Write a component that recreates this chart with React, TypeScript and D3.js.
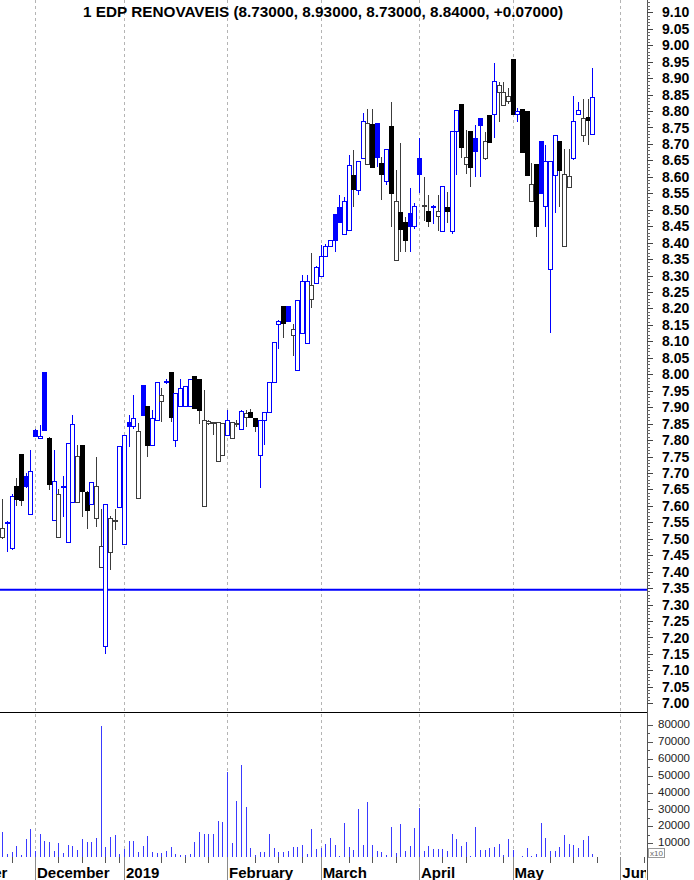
import React from "react";
import * as d3 from "d3";

const W = 694;
const H = 880;

const title = "1 EDP RENOVAVEIS (8.73000, 8.93000, 8.73000, 8.84000, +0.07000)";
const firstIndex = -7; // first visible trading day, relative to 3 Dec 2018
const priorClose = 7.56;
const supportLevel = 7.345;

const opens = [
  7.505, 7.545, 7.47, 7.66, 7.755, 7.69, 7.575,
  7.83, 7.805, 8.005, 7.805, 7.556, 7.504, 7.655, 7.49, 7.609, 7.609,
  7.784, 7.642, 7.604, 7.561, 7.414, 7.173, 7.459, 7.553, 7.595, 7.483,
  7.853, 7.842, 7.622, 7.965, 7.901, 7.784, 7.86, 7.916, 7.974, 8.004,
  7.8, 7.903, 7.903, 7.903, 7.992, 7.985, 7.597, 7.85, 7.85, 7.736,
  7.754, 7.815, 7.805, 7.848, 7.832, 7.869, 7.883, 7.865, 7.754, 7.86,
  7.884, 7.975, 8.152, 8.205, 8.205, 8.119, 8.012, 8.124, 8.092, 8.228,
  8.276, 8.296, 8.357, 8.387, 8.484, 8.506, 8.426, 8.436, 8.605, 8.557,
  8.656, 8.638, 8.76, 8.762, 8.639, 8.586, 8.753, 8.347, 8.491, 8.46,
  8.489, 8.448, 8.656, 8.51, 8.494, 8.508, 8.479, 8.433, 8.506, 8.433,
  8.737, 8.82, 8.638, 8.739, 8.717, 8.778, 8.656, 8.786, 8.788, 8.856,
  8.818, 8.83, 8.958, 8.79, 8.806, 8.798, 8.524, 8.638, 8.707, 8.509,
  8.317, 8.605, 8.707, 8.387, 8.568, 8.656, 8.788, 8.727, 8.78, 8.73,
];
const highs = [
  7.62, 7.555, 7.635, 7.685, 7.755, 7.7, 7.77,
  7.835, 7.845, 8.005, 7.81, 7.77, 7.651, 7.69, 7.79, 7.876, 7.784,
  7.784, 7.645, 7.672, 7.749, 7.592, 7.604, 7.57, 7.589, 7.78, 7.815,
  7.875, 7.936, 7.853, 7.965, 7.901, 7.891, 7.974, 7.957, 7.985, 8.004,
  7.942, 7.987, 7.964, 7.985, 7.992, 7.985, 7.952, 7.862, 7.856, 7.852,
  7.851, 7.891, 7.853, 7.86, 7.89, 7.891, 7.895, 7.865, 7.86, 7.884,
  7.975, 8.097, 8.164, 8.205, 8.205, 8.154, 8.223, 8.301, 8.301, 8.367,
  8.33, 8.392, 8.395, 8.405, 8.484, 8.545, 8.539, 8.666, 8.681, 8.646,
  8.793, 8.806, 8.806, 8.762, 8.661, 8.684, 8.828, 8.621, 8.702, 8.479,
  8.565, 8.52, 8.717, 8.598, 8.545, 8.514, 8.545, 8.57, 8.555, 8.739,
  8.803, 8.82, 8.742, 8.739, 8.757, 8.778, 8.737, 8.786, 8.945, 8.889,
  8.889, 8.87, 8.958, 8.808, 8.806, 8.798, 8.641, 8.638, 8.707, 8.697,
  8.648, 8.727, 8.707, 8.686, 8.686, 8.847, 8.828, 8.836, 8.836, 8.93,
];
const lows = [
  7.5, 7.46, 7.465, 7.6, 7.6, 7.655, 7.575,
  7.81, 7.805, 7.83, 7.648, 7.556, 7.504, 7.565, 7.49, 7.609, 7.609,
  7.566, 7.531, 7.604, 7.536, 7.414, 7.151, 7.404, 7.528, 7.595, 7.483,
  7.78, 7.835, 7.622, 7.876, 7.749, 7.784, 7.86, 7.855, 7.97, 7.855,
  7.779, 7.903, 7.903, 7.903, 7.895, 7.85, 7.597, 7.845, 7.815, 7.736,
  7.754, 7.815, 7.805, 7.84, 7.832, 7.84, 7.869, 7.825, 7.653, 7.784,
  7.884, 7.975, 8.078, 8.109, 8.161, 8.056, 8.012, 8.124, 8.092, 8.2,
  8.276, 8.296, 8.357, 8.387, 8.372, 8.461, 8.426, 8.436, 8.509, 8.545,
  8.656, 8.638, 8.629, 8.631, 8.529, 8.575, 8.448, 8.347, 8.372, 8.372,
  8.372, 8.44, 8.55, 8.465, 8.448, 8.458, 8.434, 8.433, 8.46, 8.426,
  8.605, 8.656, 8.61, 8.57, 8.6, 8.6, 8.651, 8.705, 8.717, 8.768,
  8.818, 8.82, 8.788, 8.768, 8.674, 8.605, 8.524, 8.416, 8.55, 8.447,
  8.126, 8.489, 8.509, 8.387, 8.568, 8.651, 8.788, 8.707, 8.697, 8.73,
];
const closes = [
  7.53, 7.55, 7.63, 7.62, 7.615, 7.66, 7.705,
  7.81, 7.812, 7.83, 7.665, 7.673, 7.635, 7.66, 7.79, 7.847, 7.751,
  7.645, 7.585, 7.67, 7.658, 7.477, 7.604, 7.561, 7.556, 7.779, 7.813,
  7.84, 7.865, 7.825, 7.876, 7.784, 7.866, 7.974, 7.936, 7.977, 7.868,
  7.942, 7.957, 7.964, 7.985, 7.895, 7.89, 7.86, 7.855, 7.853, 7.852,
  7.85, 7.86, 7.853, 7.85, 7.886, 7.881, 7.869, 7.84, 7.86, 7.884,
  7.975, 8.097, 8.161, 8.154, 8.161, 8.136, 8.223, 8.281, 8.282, 8.271,
  8.325, 8.357, 8.387, 8.405, 8.408, 8.461, 8.526, 8.633, 8.56, 8.646,
  8.768, 8.762, 8.629, 8.659, 8.608, 8.684, 8.55, 8.526, 8.44, 8.405,
  8.448, 8.509, 8.608, 8.512, 8.464, 8.511, 8.496, 8.57, 8.494, 8.739,
  8.803, 8.688, 8.658, 8.628, 8.676, 8.757, 8.707, 8.705, 8.891, 8.877,
  8.857, 8.845, 8.788, 8.8, 8.674, 8.605, 8.577, 8.448, 8.55, 8.646,
  8.648, 8.727, 8.619, 8.607, 8.6, 8.767, 8.803, 8.778, 8.77, 8.84,
];
const volumes = [
  16800, 3560, 4550, 8300, 2970, 12260, 18190,
  5540, 15220, 11270, 10480, 5340, 9880, 3950, 8900, 8300, 5930,
  12260, 10480, 10480, 12850, 79700, 7510, 13440, 14830, 3560, 6330,
  11270, 11270, 4550, 8300, 14240, 4550, 3950, 3950, 5340, 7510,
  3560, 2970, 2970, 3560, 10480, 16410, 15220, 15220, 15220, 23330,
  22740, 52400, 9880, 35000, 56350, 31640, 7310, 2970, 4550, 4550,
  15220, 6920, 4550, 4550, 5340, 7510, 7510, 8900, 3560, 18190,
  6330, 6920, 9290, 12850, 8900, 2370, 21750, 7510, 5930, 30050,
  8900, 34600, 8900, 5540, 4550, 2970, 19380, 3950, 21350, 5340,
  8300, 18780, 30640, 5540, 8300, 6330, 6330, 6330, 5340, 15220,
  12260, 8300, 10480, 2370, 19380, 5930, 5930, 6920, 7510, 9490,
  2970, 12260, 5930, 800, 2370, 6920, 2370, 3560, 21750, 12850,
  5340, 5340, 7510, 14830, 9290, 8900, 6920, 11670, 14240, 3560,
];

const monthLabels = ["November", "December", "2019", "February", "March", "April", "May", "June"];
const monthStarts = [-22, 0, 19, 41, 61, 82, 102, 125];
const weekTicks = [-5, 5, 10, 15, 18, 27, 32, 37, 47, 52, 57, 67, 72, 77, 87, 92, 100, 110, 115, 120, 130];
const volumeTicks = [10000, 20000, 30000, 40000, 50000, 60000, 70000, 80000];

const AXIS_X = 647;
const PRICE_BOTTOM = 712;
const VOL_BOTTOM = 857;

const BLUE = "#0000ff";
const DARK = "#3c3c3c";
const FONT = "'Liberation Sans', Arial, Helvetica, sans-serif";

export default function App() {
  const x = d3.scaleLinear().domain([0, 125]).range([35, 620.3]);
  const yP = d3.scaleLinear().domain([7.0, 9.1]).range([703.3, 12.3]);
  const yV = d3.scaleLinear().domain([0, 80000]).range([860, 725]);

  const candles = opens.map((o, k) => {
    const idx = firstIndex + k;
    const c = closes[k];
    const pc = k === 0 ? priorClose : closes[k - 1];
    const blue = c >= pc;
    const hollow = c >= o;
    return { idx, o, c, h: highs[k], l: lows[k], blue, hollow, v: volumes[k] };
  });

  const priceMinor = d3.range(700, 914, 1).map((v) => v / 100);
  const priceMajor = d3.range(700, 911, 5).map((v) => v / 100);
  const volMinor = d3.range(5000, 85000, 5000);

  return (
    <div style={{ position: "absolute", left: 0, top: 0, background: "#fff" }}>
      <svg width={W} height={H} viewBox={`0 0 ${W} ${H}`} style={{ display: "block", background: "#fff" }}>
        <defs>
          <clipPath id="pclip">
            <rect x={0} y={0} width={AXIS_X} height={PRICE_BOTTOM} />
          </clipPath>
          <clipPath id="vclip">
            <rect x={0} y={PRICE_BOTTOM + 1} width={AXIS_X} height={VOL_BOTTOM - PRICE_BOTTOM - 1} />
          </clipPath>
          <clipPath id="lclip">
            <rect x={0} y={VOL_BOTTOM} width={AXIS_X - 1} height={H - VOL_BOTTOM} />
          </clipPath>
        </defs>
        <rect x={0} y={0} width={W} height={H} fill="#fff" />

        {/* month gridlines */}
        <g shapeRendering="crispEdges">
          {monthStarts.map((m, k) => (
            <line
              key={"g" + k}
              x1={Math.round(x(m)) + 0.5}
              x2={Math.round(x(m)) + 0.5}
              y1={0}
              y2={VOL_BOTTOM}
              stroke="#b4b4b4"
              strokeDasharray="3,3"
            />
          ))}
        </g>

        {/* support line */}
        <line x1={0} x2={AXIS_X} y1={yP(supportLevel)} y2={yP(supportLevel)} stroke={BLUE} strokeWidth={2} />

        {/* candles */}
        <g clipPath="url(#pclip)" shapeRendering="crispEdges">
          {candles.map((d) => {
            const cx = Math.round(x(d.idx));
            const col = d.blue ? BLUE : DARK;
            const top = yP(Math.max(d.o, d.c));
            const bot = yP(Math.min(d.o, d.c));
            const hgt = Math.max(1, bot - top);
            const fill = d.hollow ? "#fff" : d.blue ? BLUE : "#000";
            const stroke = d.blue ? BLUE : d.hollow ? DARK : "#000";
            return (
              <g key={"c" + d.idx}>
                <line x1={cx + 0.5} x2={cx + 0.5} y1={yP(d.h)} y2={yP(d.l)} stroke={col} strokeWidth={1} />
                <rect x={cx - 1.5} y={top} width={4} height={hgt} fill={fill} stroke={stroke} strokeWidth={1} />
              </g>
            );
          })}
        </g>

        {/* panel divider */}
        <line x1={0} x2={AXIS_X} y1={PRICE_BOTTOM + 0.5} y2={PRICE_BOTTOM + 0.5} stroke="#000" strokeWidth={1.2} />

        {/* volume bars */}
        <g clipPath="url(#vclip)" shapeRendering="crispEdges">
          {candles.map((d) => {
            const cx = Math.round(x(d.idx)) + 0.5;
            return <line key={"v" + d.idx} x1={cx} x2={cx} y1={yV(0)} y2={yV(d.v)} stroke="#3a3aff" strokeWidth={1} />;
          })}
        </g>

        {/* bottom time axis ticks */}
        <g shapeRendering="crispEdges">
          {monthStarts.map((m, k) => (
            <line key={"mt" + k} x1={Math.round(x(m)) + 0.5} x2={Math.round(x(m)) + 0.5} y1={VOL_BOTTOM} y2={H} stroke="#8a8a8a" />
          ))}
          {weekTicks.map((w) => (
            <line key={"wt" + w} x1={Math.round(x(w)) + 0.5} x2={Math.round(x(w)) + 0.5} y1={VOL_BOTTOM} y2={VOL_BOTTOM + 6} stroke="#555" />
          ))}
        </g>
        <g clipPath="url(#lclip)">
          {monthLabels.map((lab, k) => (
            <text
              key={"ml" + k}
              x={x(monthStarts[k]) + 2}
              y={878}
              fontFamily={FONT}
              fontWeight="bold"
              fontSize={15}
              fill="#000"
            >
              {lab}
            </text>
          ))}
        </g>

        {/* right axis */}
        <g shapeRendering="crispEdges">
          <line x1={AXIS_X + 0.5} x2={AXIS_X + 0.5} y1={0} y2={H} stroke="#555" />
          {priceMinor.map((p) => (
            <line key={"pm" + p} x1={AXIS_X} x2={AXIS_X + 3} y1={Math.round(yP(p)) + 0.5} y2={Math.round(yP(p)) + 0.5} stroke="#666" />
          ))}
          {priceMajor.map((p) => (
            <line key={"pM" + p} x1={AXIS_X} x2={AXIS_X + 6} y1={Math.round(yP(p)) + 0.5} y2={Math.round(yP(p)) + 0.5} stroke="#444" />
          ))}
          {volMinor.map((v) => (
            <line
              key={"vm" + v}
              x1={AXIS_X}
              x2={AXIS_X + (v % 10000 === 0 ? 6 : 3)}
              y1={Math.round(yV(v)) + 0.5}
              y2={Math.round(yV(v)) + 0.5}
              stroke="#555"
            />
          ))}
        </g>
        {priceMajor.map((p) => (
          <text
            key={"pl" + p}
            x={662}
            y={yP(p)}
            dy="0.36em"
            fontFamily={FONT}
            fontWeight="bold"
            fontSize={14}
            fill="#000"
          >
            {p.toFixed(2)}
          </text>
        ))}
        {volumeTicks.map((v) => (
          <text key={"vl" + v} x={658} y={yV(v) - 1} dy="0.36em" fontFamily={FONT} fontSize={11.5} fill="#222">
            {v}
          </text>
        ))}
        <rect x={648.5} y={848.5} width={16} height={9} fill="#fff" stroke="#999" />
        <text x={650} y={856} fontFamily={FONT} fontSize={8} fill="#666">
          x10
        </text>

        {/* title */}
        <text x={83} y={17} fontFamily={FONT} fontWeight="bold" fontSize={15.3} fill="#000">
          {title}
        </text>
      </svg>
    </div>
  );
}
